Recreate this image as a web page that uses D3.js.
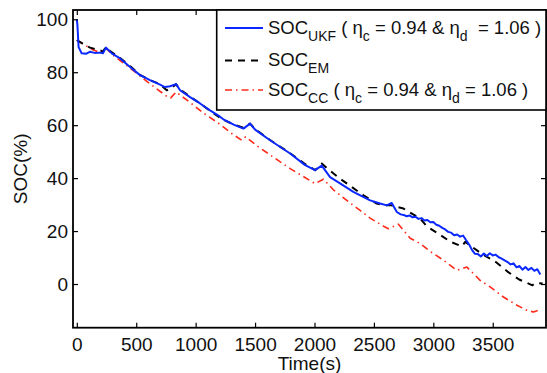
<!DOCTYPE html>
<html>
<head>
<meta charset="utf-8">
<script src="https://cdn.jsdelivr.net/npm/d3@7/dist/d3.min.js"></script>
<style>
  body { margin: 0; background: #fff; }
  svg text { font-family: "Liberation Sans", Arial, Helvetica, sans-serif; fill: #111; }
</style>
</head>
<body>
<svg id="chart" width="547" height="373"></svg>
<script>
// SOC estimated by UKF
const ukfTime = [0, 5, 15, 40, 80, 110, 150, 195, 220, 246, 294, 364, 448, 532, 616, 700, 742, 785, 835, 869,
  953, 1037, 1121, 1205, 1233, 1320, 1402, 1458, 1500, 1626, 1795, 1921, 2005, 2061, 2131, 2215, 2327, 2468,
  2552, 2608, 2650, 2693,
  2725, 2750, 2775, 2800, 2825, 2850, 2875, 2900, 2925, 2950, 2975, 3000, 3025, 3050, 3075, 3100, 3125, 3150,
  3175, 3200, 3225, 3250, 3275, 3300, 3325, 3350, 3375, 3400, 3425, 3450, 3475, 3500, 3525, 3550, 3575, 3600,
  3625, 3650, 3675, 3700, 3725, 3750, 3775, 3800, 3825, 3850, 3875, 3890, 3900];
const ukfSoc = [100, 98, 89.5, 87.2, 87.0, 87.7, 87.3, 87.4, 87.2, 89.3, 87.1, 85.2, 82.0, 78.9, 77.0, 75.3, 74.4, 74.7, 75.5, 73.2,
  70.6, 68.2, 65.6, 63.2, 62.2, 60.2, 58.7, 60.6, 58.3, 54.3, 49.3, 44.9, 43.0, 44.7, 40.4, 38.0, 34.8, 31.6,
  30.4, 29.7, 30.6, 27.2,
  26.3, 26.1, 25.6, 25.9, 25.2, 25.4, 24.6, 24.9, 24.0, 24.2, 23.3, 23.4, 22.4, 22.0, 21.2, 20.6, 19.7, 19.4,
  18.4, 18.7, 17.9, 18.3, 16.6, 15.0, 12.9, 11.4, 11.3, 10.4, 11.5, 10.6, 11.6, 10.8, 11.1, 10.1, 9.6, 8.9,
  8.3, 7.4, 7.8, 6.3, 6.8, 5.4, 6.4, 5.3, 6.1, 5.0, 5.6, 4.4, 3.6];

// SOC from the equivalent model
const emTime = [0, 50, 111, 195, 220, 246, 280, 364, 448, 532, 616, 700, 757, 790, 835, 869, 953, 1037, 1121,
  1233, 1320, 1400, 1458, 1500, 1626, 1795, 1921, 2005, 2061, 2103, 2215, 2412, 2524, 2580, 2640, 2749, 2889,
  2945, 3029, 3147, 3240, 3268, 3413, 3526, 3624, 3722, 3834, 3857, 3920];
const emSoc = [92.1, 90.8, 89.3, 88.3, 87.8, 89.6, 88.0, 85.4, 82.3, 79.0, 77.0, 75.5, 73.2, 73.8, 75.5, 73.4, 70.8, 68.2, 65.4,
  62.0, 60.3, 59.0, 60.6, 58.5, 54.4, 49.4, 45.3, 43.0, 45.5, 43.8, 39.8, 33.5, 30.4, 29.7, 29.8, 28.5, 24.7,
  21.8, 19.4, 15.9, 14.2, 15.9, 11.2, 8.3, 4.7, 1.7, -0.5, 0.4, 0.2];

// SOC from coulomb counting
const ccTime = [0, 60, 130, 200, 246, 300, 448, 616, 760, 790, 835, 953, 1065, 1200, 1317, 1388, 1420, 1528,
  1795, 2005, 2075, 2159, 2300, 2384, 2468, 2594, 2622, 2706, 2805, 2889, 2973, 3085, 3198, 3282, 3394, 3478,
  3590, 3703, 3787, 3843, 3899];
const ccSoc = [92.1, 90.5, 88.6, 87.3, 89.0, 86.6, 81.6, 75.6, 70.8, 70.3, 72.5, 68.6, 64.6, 60.5, 56.4, 54.3, 55.6, 51.8,
  43.6, 37.9, 39.6, 35.6, 30.6, 27.8, 24.9, 21.5, 20.9, 22.6, 17.3, 15.3, 12.3, 9.0, 5.2, 6.4, 1.4, -1.1,
  -4.9, -8.0, -9.9, -10.6, -9.7];

const xTicks = [0, 500, 1000, 1500, 2000, 2500, 3000, 3500];
const yTicks = [0, 20, 40, 60, 80, 100];

const plotLeft = 73, plotRight = 546, plotTop = 10, plotBottom = 327.7;

const svg = d3.select('#chart');

const x = d3.scaleLinear().domain([-32, 3948]).range([plotLeft, plotRight]);
const y = d3.scaleLinear().domain([-16.5, 103.5]).range([plotBottom, plotTop]);

svg.append('defs').append('clipPath')
  .attr('id', 'plot-clip')
  .append('rect')
  .attr('x', plotLeft).attr('y', plotTop)
  .attr('width', plotRight - plotLeft).attr('height', plotBottom - plotTop);

const series = [
  { t: ccTime, v: ccSoc, color: '#ff2a1a', width: 1.6, dash: '7,4,1.5,4' },
  { t: emTime, v: emSoc, color: '#000', width: 2, dash: '7,6' },
  { t: ukfTime, v: ukfSoc, color: '#0a28ff', width: 2, dash: null }
];

const line = d3.line()
  .x(d => x(d[0]))
  .y(d => y(d[1]));

const plot = svg.append('g').attr('clip-path', 'url(#plot-clip)');
series.forEach(s => {
  plot.append('path')
    .datum(d3.zip(s.t, s.v))
    .attr('d', line)
    .style('fill', 'none')
    .style('stroke', s.color)
    .style('stroke-width', s.width)
    .style('stroke-dasharray', s.dash)
    .style('stroke-linejoin', 'round');
});

// axes, MATLAB box style with ticks pointing inwards
const tickLen = 5;
const fmt = d3.format('d');
svg.append('g')
  .attr('transform', `translate(0,${plotBottom})`)
  .call(d3.axisBottom(x).tickValues(xTicks).tickFormat(fmt).tickSizeInner(-tickLen).tickSizeOuter(0).tickPadding(9.5))
  .call(g => g.selectAll('text').style('font-size', '19px'));
svg.append('g')
  .attr('transform', `translate(0,${plotTop})`)
  .call(d3.axisTop(x).tickValues(xTicks).tickSizeInner(-tickLen).tickSizeOuter(0).tickFormat(''));
svg.append('g')
  .attr('transform', `translate(${plotLeft},0)`)
  .call(d3.axisLeft(y).tickValues(yTicks).tickFormat(fmt).tickSizeInner(-tickLen).tickSizeOuter(0).tickPadding(5))
  .call(g => g.selectAll('text').style('font-size', '19px'));
svg.append('g')
  .attr('transform', `translate(${plotRight},0)`)
  .call(d3.axisRight(y).tickValues(yTicks).tickSizeInner(-tickLen).tickSizeOuter(0).tickFormat(''));

svg.selectAll('.domain').remove();
svg.selectAll('.tick line').style('stroke', '#000').style('stroke-width', 1.2);

svg.append('rect')
  .attr('x', plotLeft).attr('y', plotTop)
  .attr('width', plotRight - plotLeft).attr('height', plotBottom - plotTop)
  .style('fill', 'none')
  .style('stroke', '#000')
  .style('stroke-width', 1.8);

svg.append('text')
  .attr('x', (plotLeft + plotRight) / 2)
  .attr('y', 370)
  .attr('text-anchor', 'middle')
  .style('font-size', '19px')
  .text('Time(s)');

svg.append('text')
  .attr('transform', `translate(27,${(plotTop + plotBottom) / 2}) rotate(-90)`)
  .attr('text-anchor', 'middle')
  .style('font-size', '19px')
  .text('SOC(%)');

// legend
const legendRows = [
  [['SOC', 0], ['UKF', 1], [' ( η', 0], ['c', 1], [' = 0.94 & η', 0], ['d', 1], ['  = 1.06 )', 0]],
  [['SOC', 0], ['EM', 1]],
  [['SOC', 0], ['CC', 1], [' ( η', 0], ['c', 1], [' = 0.94 & η', 0], ['d', 1], [' = 1.06 )', 0]]
];
const legendStyle = [series[2], series[1], series[0]];
const rowY = [28, 60.5, 90];

const legend = svg.append('g');
legend.append('rect')
  .attr('x', 216.7).attr('y', plotTop)
  .attr('width', plotRight - 216.7).attr('height', 100)
  .style('fill', '#fff')
  .style('stroke', '#000')
  .style('stroke-width', 1.6);

legendRows.forEach((parts, i) => {
  const s = legendStyle[i];
  legend.append('line')
    .attr('x1', 225).attr('x2', 263)
    .attr('y1', rowY[i]).attr('y2', rowY[i])
    .style('stroke', s.color)
    .style('stroke-width', s.width)
    .style('stroke-dasharray', s.dash);

  const txt = legend.append('text')
    .attr('x', 268)
    .attr('y', rowY[i] + 5.5)
    .style('font-size', '18.5px')
    .style('white-space', 'pre');
  let sub = 0;
  parts.forEach(p => {
    const dy = p[1] - sub;
    sub = p[1];
    txt.append('tspan')
      .attr('dy', dy * 7)
      .style('font-size', p[1] ? '14px' : '18.5px')
      .text(p[0]);
  });
});
</script>
</body>
</html>
